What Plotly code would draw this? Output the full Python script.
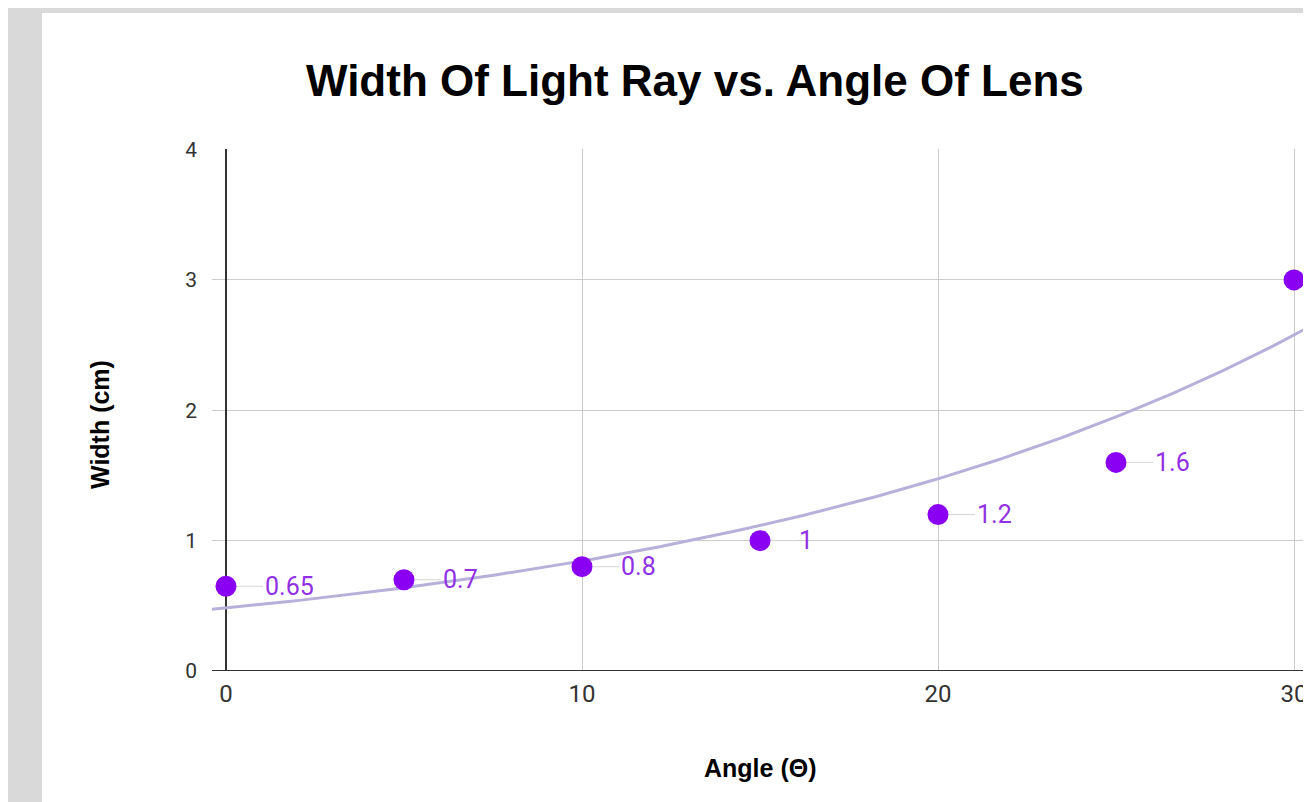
import numpy as np
import plotly.graph_objects as go

# ---- data ----
angles = [0, 5, 10, 15, 20, 25, 30]
widths = [0.65, 0.7, 0.8, 1.0, 1.2, 1.6, 3.0]
point_labels = ["0.65", "0.7", "0.8", "1", "1.2", "1.6", ""]
x_ticks = [0, 10, 20, 30]
y_ticks = [0, 1, 2, 3, 4]

# exponential trendline y = A * exp(B * x), coefficients
TREND_A = 0.483
TREND_B = 0.0558

title_text = "Width Of Light Ray vs. Angle Of Lens"
x_title = "Angle (Θ)"
y_title = "Width (cm)"

tx = np.linspace(-1, 31, 200)
ty = TREND_A * np.exp(TREND_B * tx)

# ---- layout geometry (pixels); the page body has an 8px margin ----
OFF = 8
W, H = 1311 - OFF, 802 - OFF
L, R, T, B = 212 - OFF, 4, 149 - OFF, 131
PW = W - L - R
PH = H - T - B


def px2x(px):  # reference-picture pixel -> paper
    return (px - OFF - L) / PW


def py2y(py):
    return (H - B - (py - OFF)) / PH


PURPLE = "#8a00f2"
LABEL = "#9130e4"

fig = go.Figure()
fig.add_trace(go.Scatter(x=tx, y=ty, mode="lines",
                         line=dict(color="#b8b0da", width=3),
                         hoverinfo="skip", showlegend=False))
fig.add_trace(go.Scatter(x=angles, y=widths, mode="markers",
                         marker=dict(color=PURPLE, size=21),
                         cliponaxis=False, showlegend=False))

annotations = []
for xv, yv, lab in zip(angles, widths, point_labels):
    if not lab:
        continue
    annotations.append(dict(
        x=xv, y=yv, xref="x", yref="y", text=lab,
        showarrow=True, arrowhead=0, arrowwidth=1, arrowcolor="#d6d6d6",
        ax=37, ay=0, xanchor="left", yanchor="middle", standoff=11,
        font=dict(family="Roboto", size=25, color=LABEL)))

annotations += [
    dict(text=f"<b>{title_text}</b>", x=px2x(695), y=py2y(80), xref="paper", yref="paper",
         showarrow=False, xanchor="center", yanchor="middle",
         font=dict(family="Liberation Sans", size=44, color="#000000")),
    dict(text=f"<b>{x_title}</b>", x=px2x(760), y=py2y(768), xref="paper", yref="paper",
         showarrow=False, xanchor="center", yanchor="middle",
         font=dict(family="Liberation Sans", size=25, color="#000000")),
    dict(text=f"<b>{y_title}</b>", x=px2x(100), y=py2y(425), xref="paper", yref="paper",
         showarrow=False, xanchor="center", yanchor="middle", textangle=-90,
         font=dict(family="Liberation Sans", size=25, color="#000000")),
]

fig.update_layout(
    width=W, height=H,
    margin=dict(l=L, r=R, t=T, b=B, pad=0),
    paper_bgcolor="#d9d9d9",
    plot_bgcolor="#ffffff",
    showlegend=False,
    annotations=annotations,
    shapes=[dict(type="rect", xref="paper", yref="paper",
                 x0=px2x(42), x1=px2x(1320), y0=py2y(810), y1=py2y(13),
                 fillcolor="#ffffff", line=dict(width=0), layer="below")],
    xaxis=dict(range=[-0.393, 30.365], tickmode="array", tickvals=x_ticks,
               showgrid=True, gridcolor="#cccccc", gridwidth=1,
               zeroline=True, zerolinecolor="#333333", zerolinewidth=2,
               showline=False, ticks="", ticklen=0, ticklabelstandoff=6,
               tickfont=dict(family="Roboto", size=24, color="#333333")),
    yaxis=dict(range=[0, 4.004], tickmode="array", tickvals=y_ticks,
               showgrid=True, gridcolor="#cccccc", gridwidth=1,
               zeroline=False, showline=False, ticks="", ticklen=0,
               ticklabelstandoff=14,
               tickfont=dict(family="Roboto", size=21, color="#333333")),
)
fig.add_shape(type="line", xref="paper", yref="y", x0=0, x1=1, y0=0, y1=0,
              line=dict(color="#333333", width=2))

fig.write_html("out.html")
